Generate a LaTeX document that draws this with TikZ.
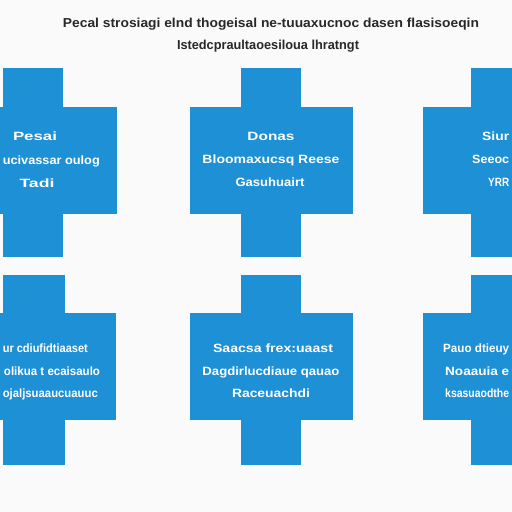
\documentclass[tikz,border=0pt]{standalone}
\usepackage{fontspec}
\setmainfont{Liberation Sans}
\usepackage{graphicx}
\definecolor{crossblue}{RGB}{30,144,214}
\definecolor{bgc}{RGB}{250,250,250}
\definecolor{titlec}{RGB}{40,40,40}
\newcommand{\fw}[2]{\resizebox{#1pt}{\height}{#2}}
\begin{document}
\begin{tikzpicture}[x=1pt,y=-1pt,
  crossfill/.style={fill=crossblue},
  lbl/.style={anchor=base, text=white, font=\bfseries\fontsize{12}{14}\selectfont, inner sep=0pt},
  ttl/.style={anchor=base, text=titlec, font=\bfseries\fontsize{13}{15}\selectfont, inner sep=0pt}]
\fill[bgc] (0,0) rectangle (512,512);
\useasboundingbox (0,0) rectangle (512,512);
\clip (0,0) rectangle (512,512);
% title
\node[ttl] (t1) at (271,27) {\fw{416}{Pecal strosiagi elnd thogeisal ne-tuuaxucnoc dasen flasisoeqin}};
\node[ttl] (t2) at (268,49) {\fw{182}{Istedcpraultaoesiloua lhratngt}};
% crosses: top row
\foreach \vxa/\vxb/\hxa/\hxb in {3/63/-49/117, 241/301/190/353, 471/531/423/584}{
  \fill[crossfill] (\vxa,68) rectangle (\vxb,257);
  \fill[crossfill] (\hxa,107) rectangle (\hxb,214);
}
% crosses: bottom row
\foreach \vxa/\vxb/\hxa/\hxb in {3/65/-49/116, 241/301/190/353, 471/531/423/584}{
  \fill[crossfill] (\vxa,275) rectangle (\vxb,465);
  \fill[crossfill] (\hxa,313) rectangle (\hxb,420);
}
% cross 1 text
\node[lbl] (c1a) at (35,140) {\fw{44}{Pesai}};
\node[lbl,anchor=base east] (c1b) at (100,164) {\fw{97}{ucivassar oulog}};
\node[lbl] (c1c) at (37,187) {\fw{35}{Tadi}};
% cross 2 text
\node[lbl] (c2a) at (271,140) {\fw{47}{Donas}};
\node[lbl] (c2b) at (271,163) {\fw{137}{Bloomaxucsq Reese}};
\node[lbl] (c2c) at (270,186) {\fw{69}{Gasuhuairt}};
% cross 3 text
\node[lbl,anchor=base west] (c3a) at (482,140) {\fw{27}{Siur}};
\node[lbl,anchor=base west] (c3b) at (472,163) {\fw{37}{Seeoc}};
\node[lbl,anchor=base west] (c3c) at (488,186) {\fw{21}{YRR}};
% cross 4 text
\node[lbl,anchor=base east] (c4a) at (88,352) {\fw{85}{ur cdiufidtiaaset}};
\node[lbl] (c4b) at (52,375) {\fw{96}{olikua t ecaisaulo}};
\node[lbl,anchor=base east] (c4c) at (98,397) {\fw{95}{ojaljsuaaucuauuc}};
% cross 5 text
\node[lbl] (c5a) at (273,352) {\fw{120}{Saacsa frex:uaast}};
\node[lbl] (c5b) at (271,375) {\fw{137}{Dagdirlucdiaue qauao}};
\node[lbl] (c5c) at (271,397) {\fw{78}{Raceuachdi}};
% cross 6 text
\node[lbl,anchor=base west] (c6a) at (443,352) {\fw{66}{Pauo dtieuy}};
\node[lbl,anchor=base west] (c6b) at (445,375) {\fw{64}{Noaauia e}};
\node[lbl,anchor=base west] (c6c) at (445,397) {\fw{64}{ksasuaodthe}};
\end{tikzpicture}
\end{document}
